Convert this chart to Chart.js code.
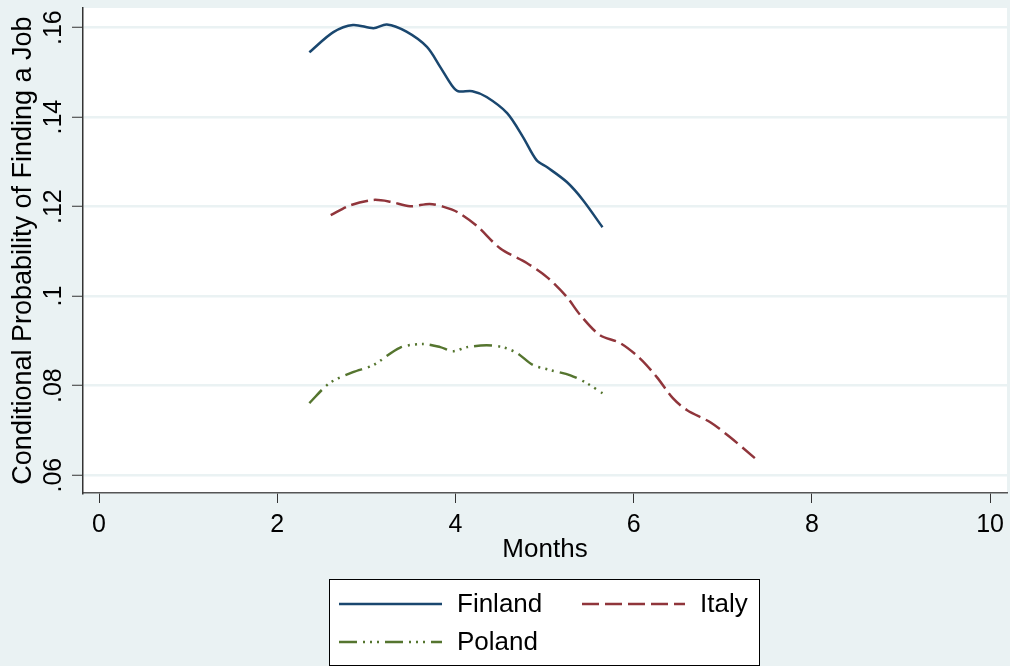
<!DOCTYPE html>
<html>
<head>
<meta charset="utf-8">
<script src="https://cdn.jsdelivr.net/npm/chart.js@4"></script>
<style>
  html, body { margin: 0; padding: 0; background: #EAF2F3; }
  #wrap { width: 1010px; height: 666px; }
</style>
</head>
<body>
<div id="wrap"><canvas id="chart" width="1010" height="666"></canvas></div>
<script>
// series (months, probability)
const finlandX = [2.36, 2.63, 2.85, 3.08, 3.23, 3.45, 3.68, 3.83, 3.96, 4.03, 4.19, 4.35, 4.58, 4.76, 4.91, 5.03, 5.25, 5.43, 5.65];
const finlandY = [0.1545, 0.1590, 0.1606, 0.1599, 0.1607, 0.1591, 0.1557, 0.1512, 0.1471, 0.1458, 0.1458, 0.1445, 0.1409, 0.1355, 0.1304, 0.1288, 0.1255, 0.1215, 0.1154];

const italyX = [2.60, 2.82, 3.08, 3.27, 3.49, 3.71, 3.86, 4.02, 4.24, 4.50, 4.80, 5.03, 5.25, 5.40, 5.62, 5.85, 6.07, 6.26, 6.44, 6.60, 6.86, 7.08, 7.36];
const italyY = [0.1181, 0.1203, 0.1215, 0.1211, 0.1201, 0.1206, 0.1200, 0.1188, 0.1157, 0.1107, 0.1074, 0.1042, 0.0998, 0.0958, 0.0913, 0.0895, 0.0861, 0.0819, 0.0772, 0.0745, 0.0718, 0.0685, 0.0638];

const polandX = [2.36, 2.59, 2.85, 3.08, 3.38, 3.64, 3.83, 3.97, 4.13, 4.35, 4.53, 4.69, 4.87, 5.06, 5.29, 5.47, 5.65];
const polandY = [0.0761, 0.0806, 0.0830, 0.0846, 0.0885, 0.0893, 0.0886, 0.0877, 0.0886, 0.0890, 0.0886, 0.0873, 0.0846, 0.0835, 0.0823, 0.0806, 0.0783];

// axis ticks
const xTicks = [0, 2, 4, 6, 8, 10];
const yTicks = [0.06, 0.08, 0.1, 0.12, 0.14, 0.16];
const yTickLabels = [".06", ".08", ".1", ".12", ".14", ".16"];

const FONT = '"Liberation Sans", Arial, sans-serif';

const toPoints = (xs, ys) => xs.map((x, i) => ({ x: x, y: ys[i] }));

// white plot region like Stata
const plotBg = {
  id: "plotBg",
  beforeDraw(chart) {
    const { ctx, chartArea: a } = chart;
    ctx.save();
    ctx.fillStyle = "#ffffff";
    ctx.fillRect(a.left, a.top, a.right - a.left, a.bottom - a.top);
    ctx.restore();
  }
};

// boxed legend, two columns
const stataLegend = {
  id: "stataLegend",
  afterDraw(chart) {
    const ctx = chart.ctx;
    ctx.save();
    ctx.fillStyle = "#ffffff";
    ctx.fillRect(329, 579, 431, 87);
    ctx.strokeStyle = "#000000";
    ctx.lineWidth = 1;
    ctx.strokeRect(329.5, 579.5, 430, 86);
    const slots = [[339, 604], [582, 604], [339, 642]];
    chart.data.datasets.forEach((ds, i) => {
      const [x, y] = slots[i];
      ctx.strokeStyle = ds.borderColor;
      ctx.lineWidth = ds.borderWidth;
      ctx.setLineDash(ds.borderDash || []);
      ctx.beginPath();
      ctx.moveTo(x, y);
      ctx.lineTo(x + 103, y);
      ctx.stroke();
      ctx.setLineDash([]);
      ctx.fillStyle = "#000000";
      ctx.font = "26px " + FONT;
      ctx.textBaseline = "middle";
      ctx.fillText(ds.label, x + 118, y + 1);
    });
    ctx.restore();
  }
};

new Chart(document.getElementById("chart"), {
  type: "line",
  data: {
    datasets: [
      {
        label: "Finland",
        data: toPoints(finlandX, finlandY),
        borderColor: "#1a476f",
        borderWidth: 2.5,
        borderDash: [],
        pointRadius: 0,
        tension: 0.3,
        fill: false
      },
      {
        label: "Italy",
        data: toPoints(italyX, italyY),
        borderColor: "#90353b",
        borderWidth: 2.5,
        borderDash: [17, 6],
        pointRadius: 0,
        tension: 0.3,
        fill: false
      },
      {
        label: "Poland",
        data: toPoints(polandX, polandY),
        borderColor: "#55752f",
        borderWidth: 2.5,
        borderDash: [18, 6, 2, 5, 2, 5, 2, 6],
        pointRadius: 0,
        tension: 0.3,
        fill: false
      }
    ]
  },
  options: {
    responsive: false,
    devicePixelRatio: 1,
    animation: false,
    layout: { padding: { top: 8, right: 3, left: 0, bottom: 101 } },
    plugins: {
      legend: { display: false },
      tooltip: { enabled: false }
    },
    scales: {
      x: {
        type: "linear",
        min: -0.18,
        max: 10.19,
        afterBuildTicks: (s) => { s.ticks = xTicks.map((v) => ({ value: v })); },
        afterFit: (s) => { s.height = 72; s.paddingLeft = 0; s.paddingRight = 0; },
        grid: {
          drawOnChartArea: false,
          drawTicks: true,
          tickLength: 10,
          tickColor: "#333333",
          tickWidth: 1
        },
        border: { color: "#555555", width: 1.5 },
        ticks: {
          color: "#000000",
          font: { family: FONT, size: 25 },
          padding: 7,
          maxRotation: 0,
          callback: (v) => String(v)
        },
        title: {
          display: true,
          text: "Months",
          color: "#000000",
          font: { family: FONT, size: 26 },
          padding: 0
        }
      },
      y: {
        type: "linear",
        min: 0.056,
        max: 0.1644,
        afterBuildTicks: (s) => { s.ticks = yTicks.map((v) => ({ value: v })); },
        afterFit: (s) => { s.width = 83; s.paddingTop = 0; s.paddingBottom = 0; },
        grid: {
          color: "#EAF2F3",
          lineWidth: 2.5,
          drawTicks: true,
          tickLength: 11,
          tickColor: "#333333",
          tickWidth: 1
        },
        border: { color: "#333333", width: 1.5 },
        ticks: {
          color: "#000000",
          font: { family: FONT, size: 25 },
          padding: 1,
          minRotation: 90,
          maxRotation: 90,
          crossAlign: "center",
          callback: (v, i) => yTickLabels[i]
        },
        title: {
          display: true,
          text: "Conditional Probability of Finding a Job",
          color: "#000000",
          font: { family: FONT, size: 27 },
          padding: { top: 7, bottom: 0 }
        }
      }
    }
  },
  plugins: [plotBg, stataLegend]
});
</script>
</body>
</html>
